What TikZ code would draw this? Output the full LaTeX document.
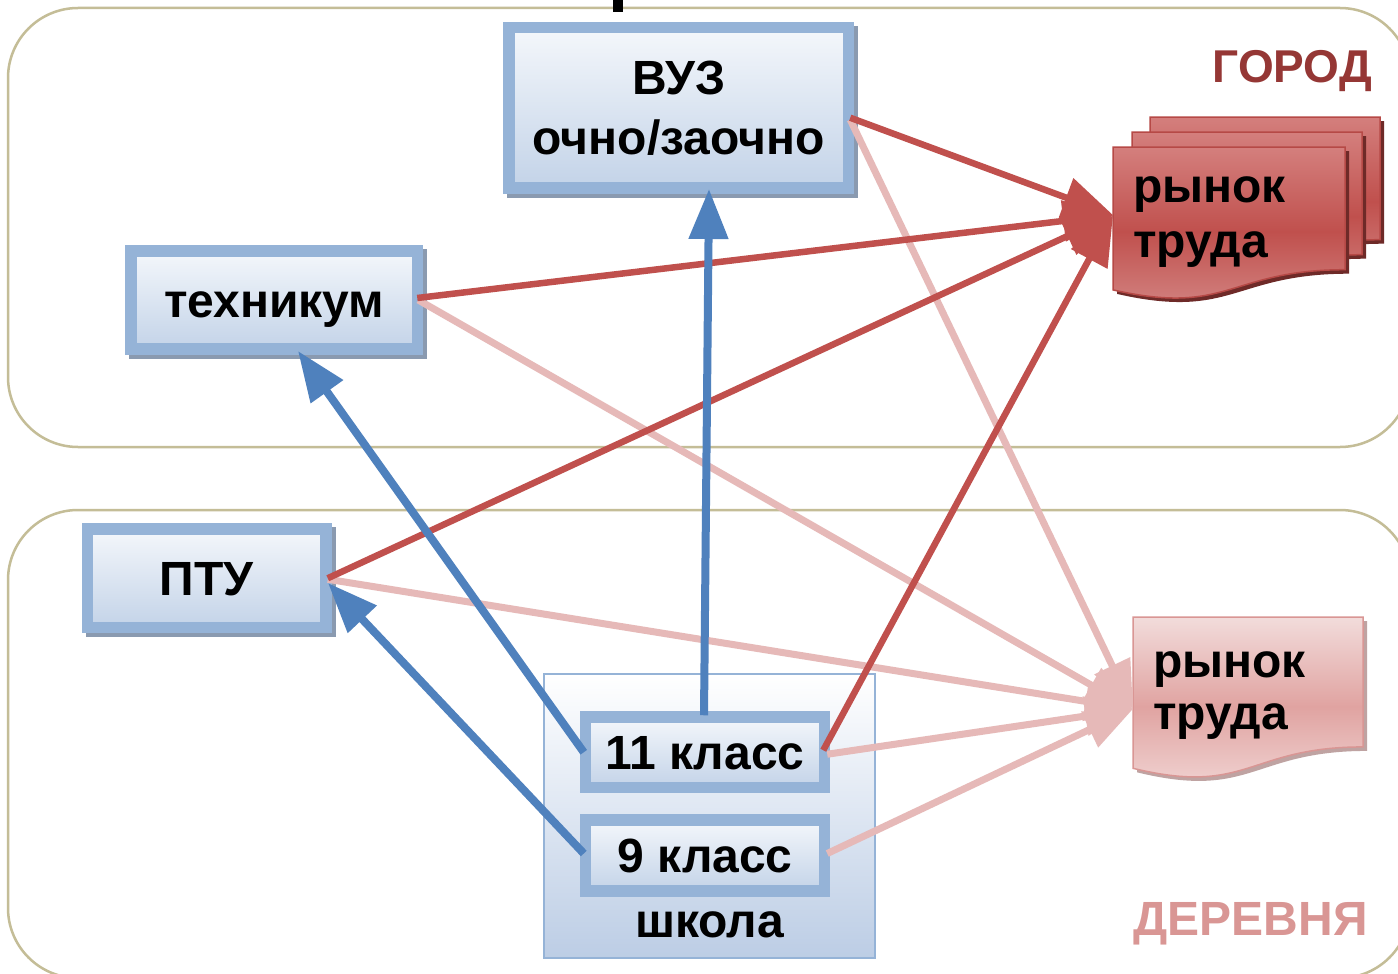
\documentclass[tikz,border=0pt]{standalone}
\usepackage{fontspec}
\setmainfont{Liberation Sans}
\usetikzlibrary{arrows.meta}
\definecolor{panelline}{HTML}{C4BD97}
\definecolor{boxline}{HTML}{95B3D7}
\definecolor{boxtop}{HTML}{F4F7FB}
\definecolor{boxbot}{HTML}{C3D3E8}
\definecolor{boxshadow}{HTML}{8A9AB0}
\definecolor{bluearr}{HTML}{4F81BD}
\definecolor{redarr}{HTML}{C0504D}
\definecolor{pinkarr}{HTML}{E6B9B8}
\definecolor{citytext}{HTML}{953735}
\definecolor{villtext}{HTML}{D99694}
\definecolor{cdoctop}{HTML}{D47F7D}
\definecolor{cdocmid}{HTML}{C0504D}
\definecolor{cdocbot}{HTML}{D48886}
\definecolor{cdocline}{HTML}{B64946}
\definecolor{cdocshadow}{HTML}{6E2A28}
\definecolor{vdoctop}{HTML}{F2DCDB}
\definecolor{vdocmid}{HTML}{E0A3A1}
\definecolor{vdocbot}{HTML}{F2D8D7}
\definecolor{vdocline}{HTML}{D99694}
\definecolor{vdocshadow}{HTML}{BFA3A2}
\definecolor{schoolbot}{HTML}{BCCDE5}
\newcommand\docsheet[4]{(#1,#2) -- ({#1+#3},#2) -- ({#1+#3},{#2+0.802*#4}) .. controls ({#1+0.5*#3},{#2+0.802*#4}) and ({#1+0.5*#3},{#2+1.107*#4}) .. (#1,{#2+0.934*#4}) -- cycle}
\tikzset{
  panel/.style={draw=panelline, line width=2.5pt, rounded corners=70pt},
  boxfont/.style={font=\bfseries\fontsize{48}{55}\selectfont},
  kbox/.style={draw=boxline, line width=11.5pt, top color=boxtop, bottom color=boxbot, inner sep=0pt, boxfont},
  bluebox/.style={kbox, preaction={fill=boxshadow, draw=boxshadow, line width=11.5pt, transform canvas={xshift=4pt,yshift=-4pt}}},
  schoolbox/.style={draw=boxline, line width=2pt, top color=white, bottom color=schoolbot},
  onetext/.style={text height=34pt, text depth=0pt},
  citysheet/.style={draw=cdocline, line width=1.5pt, top color=cdoctop, bottom color=cdocbot, middle color=cdocmid,
    preaction={fill=cdocshadow, transform canvas={xshift=4pt,yshift=-4pt}}},
  villsheet/.style={draw=vdocline, line width=1.5pt, top color=vdoctop, bottom color=vdocbot, middle color=vdocmid,
    preaction={fill=vdocshadow, transform canvas={xshift=4pt,yshift=-4pt}}},
  doctext/.style={boxfont, align=left, inner sep=0pt, anchor=base west},
  bluelink/.style={draw=bluearr, line width=8pt, -{Triangle[length=50pt,width=38pt]}},
  redlink/.style={draw=redarr, line width=6.5pt, -{Triangle[length=50pt,width=40pt]}},
  pinklink/.style={draw=pinkarr, line width=7pt, -{Triangle[length=48pt,width=38pt]}},
}
\begin{document}
\begin{tikzpicture}[x=1pt,y=-1pt]
\useasboundingbox (0,0) rectangle (1398,974);
\clip (0,0) rectangle (1398,974);
\fill[white] (0,0) rectangle (1398,974);
% panels
\draw[panel] (8,8) rectangle (1410,447);
\draw[panel] (8,510) rectangle (1410,978);
% cut title fragment
\fill[black] (613,0) rectangle (623,12);
% region labels
\node[anchor=base east, inner sep=0pt, text=citytext, font=\bfseries\fontsize{46}{50}\selectfont] (city) at (1372,82) {ГОРОД};
\node[anchor=base east, inner sep=0pt, text=villtext, font=\bfseries\fontsize{48}{50}\selectfont] (village) at (1368,935) {ДЕРЕВНЯ};
% boxes
\node[bluebox, align=center, font=\bfseries\fontsize{48}{60}\selectfont, minimum width=339.5pt, minimum height=160.5pt] (vuz) at (678.75,107.75) {ВУЗ\\очно/заочно};
\node[bluebox, onetext, minimum width=286.5pt, minimum height=98pt] (tech) at (274.25,300) {техникум};
\node[bluebox, onetext, minimum width=238.5pt, minimum height=98.5pt] (ptu) at (206.75,578.25) {ПТУ};
\node[schoolbox, minimum width=331pt, minimum height=284pt] (school) at (709.5,816) {};
\node[kbox, onetext, minimum width=239pt, minimum height=70.5pt] (k11) at (705,752.25) {11 класс};
\node[kbox, onetext, minimum width=239pt, minimum height=71pt] (k9) at (705,855.5) {9 класс};
\node[boxfont, anchor=base, inner sep=0pt] (schooltext) at (709.5,937) {школа};
% city labour market (three sheets)
\path[citysheet] \docsheet{1150}{117}{230}{153};
\path[citysheet] \docsheet{1132}{132}{230}{153};
\path[citysheet] \docsheet{1113}{147}{232}{153};
\node[doctext, font=\bfseries\fontsize{48}{55}\selectfont] (citydoc) at (1133,257) {рынок\\труда};
% village labour market
\path[villsheet] \docsheet{1133}{617}{230}{162};
\node[doctext, font=\bfseries\fontsize{48}{52}\selectfont] (villdoc) at (1153,729) {рынок\\труда};
% arrow tips
\coordinate (ctip) at (1113,215);
\coordinate (vtip) at (1133,709);
\coordinate (vuztip) at (709,189);
\coordinate (techtip) at (298,351);
\coordinate (ptutip) at (328,583);
% pink links
\draw[pinklink] ([xshift=-4pt,yshift=-12pt]vuz.east) -- (vtip);
\draw[pinklink] ([xshift=-5pt,yshift=0pt]tech.east) -- (vtip);
\draw[pinklink] ([xshift=-4pt,yshift=-1pt]ptu.east) -- (vtip);
\draw[pinklink] ([xshift=-3pt,yshift=-2pt]k11.east) -- (vtip);
\draw[pinklink] ([xshift=-3pt,yshift=2pt]k9.east) -- (vtip);
% red links
\draw[redlink] ([xshift=-4pt,yshift=-10pt]vuz.east) -- (ctip);
\draw[redlink] ([xshift=-6pt,yshift=2pt]tech.east) -- (ctip);
\draw[redlink] ([xshift=-4pt,yshift=0pt]ptu.east) -- (ctip);
\draw[redlink] ([xshift=-7pt,yshift=2pt]k11.east) -- (ctip);
% blue links
\draw[bluelink] ([xshift=-1pt,yshift=-4pt]k11.north) -- (vuztip);
\draw[bluelink] ([xshift=4pt]k11.west) -- (techtip);
\draw[bluelink] ([xshift=4pt,yshift=2pt]k9.west) -- (ptutip);
\end{tikzpicture}
\end{document}
